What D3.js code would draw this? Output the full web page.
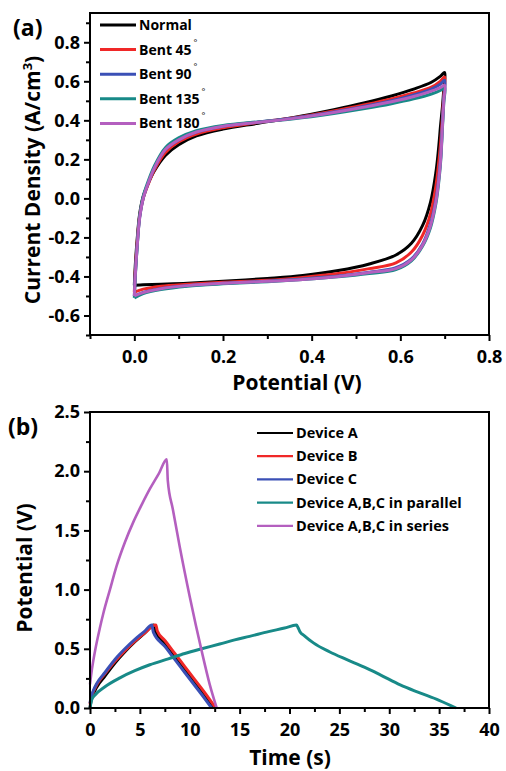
<!DOCTYPE html>
<html>
<head>
<meta charset="utf-8">
<script src="https://d3js.org/d3.v7.min.js"></script>
<style>
  body { margin: 0; background: #fff; }
  text { font-family: "Open Sans", "Noto Sans", sans-serif; font-weight: bold; fill: #000; }
</style>
</head>
<body>
<div id="chart"></div>
<script>
var W = 506, H = 771;

// ---- panel (a): cyclic voltammetry under bending ----
var cvNames  = ['Normal', 'Bent 45', 'Bent 90', 'Bent 135', 'Bent 180'],
    cvColors = ['#000000', '#f02828', '#3b50b6', '#188a88', '#b45fbf'];

// forward scan (0 -> 0.7 V) and reverse scan (0.7 -> 0 V)
var vAnodic   = [0, 0.002, 0.006, 0.012, 0.02, 0.03, 0.045, 0.07, 0.1, 0.14, 0.2, 0.28, 0.36, 0.45, 0.52, 0.58, 0.63, 0.67, 0.69, 0.70],
    vCathodic = [0.698, 0.695, 0.691, 0.686, 0.68, 0.668, 0.65, 0.625, 0.59, 0.53, 0.46, 0.38, 0.3, 0.2, 0.12, 0.06, 0.02, 0.0];

var iNormalUp   = [-0.445, -0.35, -0.22, -0.08, 0.01, 0.07, 0.14, 0.22, 0.275, 0.32, 0.355, 0.385, 0.415, 0.455, 0.49, 0.525, 0.56, 0.595, 0.625, 0.645],
    iBent45Up   = [-0.48, -0.38, -0.24, -0.09, 0.0, 0.065, 0.145, 0.235, 0.29, 0.33, 0.362, 0.39, 0.413, 0.448, 0.48, 0.51, 0.54, 0.57, 0.6, 0.622],
    iBent90Up   = [-0.50, -0.40, -0.26, -0.10, 0.0, 0.07, 0.155, 0.25, 0.30, 0.34, 0.37, 0.392, 0.412, 0.443, 0.472, 0.5, 0.53, 0.56, 0.585, 0.605],
    iBent135Up  = [-0.51, -0.41, -0.26, -0.09, 0.01, 0.08, 0.165, 0.26, 0.31, 0.347, 0.374, 0.392, 0.408, 0.435, 0.46, 0.485, 0.51, 0.535, 0.553, 0.568],
    iBent180Up  = [-0.50, -0.40, -0.26, -0.10, 0.0, 0.07, 0.155, 0.25, 0.30, 0.34, 0.37, 0.39, 0.41, 0.44, 0.468, 0.495, 0.522, 0.55, 0.567, 0.58];

var iNormalDown  = [0.56, 0.47, 0.38, 0.25, 0.13, -0.02, -0.14, -0.23, -0.29, -0.336, -0.37, -0.395, -0.41, -0.425, -0.435, -0.44, -0.443, -0.445],
    iBent45Down  = [0.53, 0.42, 0.29, 0.17, 0.06, -0.08, -0.19, -0.275, -0.33, -0.36, -0.385, -0.405, -0.42, -0.43, -0.44, -0.45, -0.465, -0.48],
    iBent90Down  = [0.51, 0.38, 0.21, 0.09, -0.01, -0.13, -0.235, -0.31, -0.355, -0.378, -0.398, -0.413, -0.424, -0.435, -0.447, -0.462, -0.482, -0.50],
    iBent135Down = [0.49, 0.36, 0.19, 0.07, -0.03, -0.15, -0.245, -0.32, -0.365, -0.385, -0.402, -0.416, -0.427, -0.438, -0.45, -0.467, -0.488, -0.51],
    iBent180Down = [0.50, 0.37, 0.20, 0.08, -0.02, -0.14, -0.24, -0.315, -0.36, -0.38, -0.40, -0.415, -0.425, -0.435, -0.447, -0.463, -0.483, -0.50];

var cvUp   = [iNormalUp, iBent45Up, iBent90Up, iBent135Up, iBent180Up],
    cvDown = [iNormalDown, iBent45Down, iBent90Down, iBent135Down, iBent180Down];

var aXMajor = [0, 0.2, 0.4, 0.6, 0.8], aXLabels = ['0.0', '0.2', '0.4', '0.6', '0.8'],
    aXMinor = [-0.1, 0.1, 0.3, 0.5, 0.7],
    aYMajor = [-0.6, -0.4, -0.2, 0, 0.2, 0.4, 0.6, 0.8],
    aYLabels = ['-0.6', '-0.4', '-0.2', '0.0', '0.2', '0.4', '0.6', '0.8'],
    aYMinor = [-0.7, -0.5, -0.3, -0.1, 0.1, 0.3, 0.5, 0.7, 0.9];

// ---- panel (b): galvanostatic charge / discharge ----
var gcdNames  = ['Device A', 'Device B', 'Device C', 'Device A,B,C in parallel', 'Device A,B,C in series'],
    gcdColors = ['#000000', '#f02828', '#3b50b6', '#188a88', '#b45fbf'];

var tDevA = [0, 0.1, 0.3, 0.7, 1.5, 2.5, 3.5, 4.5, 5.5, 6.4, 6.55, 7.5, 8.5, 9.5, 10.5, 11.5, 12.4],
    vDevA = [0.0, 0.06, 0.11, 0.18, 0.27, 0.38, 0.475, 0.56, 0.635, 0.70, 0.645, 0.54, 0.43, 0.32, 0.21, 0.10, 0.0];
var tDevB = [0, 0.1, 0.3, 0.7, 1.5, 2.5, 3.5, 4.5, 5.5, 6.6, 6.75, 7.5, 8.5, 9.5, 10.5, 11.5, 12.6],
    vDevB = [0.03, 0.08, 0.13, 0.2, 0.29, 0.395, 0.485, 0.565, 0.635, 0.70, 0.65, 0.57, 0.46, 0.35, 0.24, 0.13, 0.0];
var tDevC = [0, 0.1, 0.3, 0.7, 1.5, 2.5, 3.5, 4.5, 5.5, 6.2, 6.35, 7.5, 8.5, 9.5, 10.5, 11.5, 12.2],
    vDevC = [0.04, 0.09, 0.14, 0.21, 0.30, 0.41, 0.50, 0.58, 0.65, 0.70, 0.64, 0.52, 0.41, 0.30, 0.19, 0.08, 0.0];
var tParallel = [0, 0.17, 0.5, 1.5, 3, 4.5, 6, 7.85, 9.5, 11.2, 13, 14.5, 16, 17.9, 19.5, 20.7, 20.85, 21.05, 21.5, 22.4, 24, 25.7, 27.5, 29.1, 31.1, 33, 35, 36.7],
    vParallel = [0, 0.07, 0.11, 0.18, 0.255, 0.315, 0.365, 0.415, 0.46, 0.50, 0.54, 0.575, 0.605, 0.645, 0.675, 0.70, 0.68, 0.645, 0.61, 0.55, 0.475, 0.41, 0.345, 0.28, 0.195, 0.13, 0.065, 0.0];
var tSeries = [0, 0.2, 0.5, 1.0, 1.34, 2.0, 2.67, 3.5, 4.34, 5.2, 6.0, 6.9, 7.7, 7.8, 8.3, 9.0, 10.0, 11.2, 12.0, 12.7],
    vSeries = [0.2, 0.33, 0.48, 0.68, 0.8, 1.0, 1.2, 1.4, 1.57, 1.72, 1.85, 1.98, 2.10, 1.92, 1.68, 1.36, 0.94, 0.48, 0.2, 0.0];

var gcdT = [tDevA, tDevB, tDevC, tParallel, tSeries],
    gcdV = [vDevA, vDevB, vDevC, vParallel, vSeries];

var bXMajor = [0, 5, 10, 15, 20, 25, 30, 35, 40],
    bXMinor = [2.5, 7.5, 12.5, 17.5, 22.5, 27.5, 32.5, 37.5],
    bYMajor = [0, 0.5, 1, 1.5, 2, 2.5],
    bYLabels = ['0.0', '0.5', '1.0', '1.5', '2.0', '2.5'],
    bYMinor = [0.25, 0.75, 1.25, 1.75, 2.25];

var svg = d3.select('#chart').append('svg')
    .attr('width', W)
    .attr('height', H);

function drawFrame(x, y, xMajor, xLabels, xMinor, yMajor, yLabels, yMinor) {
    var g = svg.append('g');
    var xr = x.range(), yr = y.range();

    var xa = g.append('g')
        .attr('transform', 'translate(0,' + yr[0] + ')')
        .call(d3.axisBottom(x).tickValues(xMajor).tickSize(6).tickPadding(9)
            .tickFormat(function(d, i) { return xLabels[i]; }));
    xa.append('g').call(d3.axisBottom(x).tickValues(xMinor).tickSize(4).tickFormat(''));

    var ya = g.append('g')
        .attr('transform', 'translate(' + xr[0] + ',0)')
        .call(d3.axisLeft(y).tickValues(yMajor).tickSize(6).tickPadding(4)
            .tickFormat(function(d, i) { return yLabels[i]; }));
    ya.append('g').call(d3.axisLeft(y).tickValues(yMinor).tickSize(4).tickFormat(''));

    g.selectAll('.domain').remove();
    g.selectAll('.tick line').attr('stroke', '#000').attr('stroke-width', 2);
    g.selectAll('.tick text')
        .style('font-size', '18px')
        .style('font-family', '"Open Sans", sans-serif')
        .style('font-weight', 'bold')
        .attr('fill', '#000');

    g.append('rect')
        .attr('x', xr[0]).attr('y', yr[1])
        .attr('width', xr[1] - xr[0]).attr('height', yr[0] - yr[1])
        .attr('fill', 'none')
        .attr('stroke', '#000')
        .attr('stroke-width', 2);
}

// ---------- (a) ----------
var xa = d3.scaleLinear().domain([-0.1, 0.8]).range([90, 489]),
    ya = d3.scaleLinear().domain([-0.7, 0.95]).range([335, 13]);

var cvLine = d3.line()
    .x(function(d) { return xa(d[0]); })
    .y(function(d) { return ya(d[1]); })
    .curve(d3.curveCatmullRom.alpha(0.5));

cvNames.forEach(function(name, k) {
    var pts = vAnodic.map(function(v, i) { return [v, cvUp[k][i]]; })
        .concat(vCathodic.map(function(v, i) { return [v, cvDown[k][i]]; }));
    svg.append('path')
        .datum(pts)
        .attr('d', cvLine)
        .attr('fill', 'none')
        .attr('stroke', cvColors[k])
        .attr('stroke-width', 3)
        .attr('stroke-linejoin', 'round');
});

drawFrame(xa, ya, aXMajor, aXLabels, aXMinor, aYMajor, aYLabels, aYMinor);

var legA = svg.append('g');
cvNames.forEach(function(name, k) {
    var cy = 25 + k * 24.6;
    legA.append('line')
        .attr('x1', 100).attr('x2', 136)
        .attr('y1', cy).attr('y2', cy)
        .attr('stroke', cvColors[k])
        .attr('stroke-width', 3);
    var t = legA.append('text')
        .attr('x', 139).attr('y', cy + 5)
        .style('font-size', '14px')
        .text(name);
    if (k > 0) {
        t.append('tspan')
            .attr('dx', 2).attr('dy', -9)
            .style('font-size', '9px')
            .style('font-weight', 'normal')
            .text('°');
    }
});

svg.append('text')
    .attr('x', 13).attr('y', 36)
    .style('font-size', '23px')
    .text('(a)');

svg.append('text')
    .attr('x', 297).attr('y', 390)
    .attr('text-anchor', 'middle')
    .style('font-size', '21px')
    .text('Potential (V)');

var yLabA = svg.append('text')
    .attr('transform', 'translate(40,180) rotate(-90)')
    .attr('text-anchor', 'middle')
    .style('font-size', '21px')
    .text('Current Density (A/cm');
yLabA.append('tspan').attr('dy', -8).style('font-size', '13px').text('3');
yLabA.append('tspan').attr('dy', 8).text(')');

// ---------- (b) ----------
var xb = d3.scaleLinear().domain([0, 40]).range([90, 489]),
    yb = d3.scaleLinear().domain([0, 2.5]).range([708, 412]);

var gcdLine = d3.line()
    .x(function(d) { return xb(d[0]); })
    .y(function(d) { return yb(d[1]); })
    .curve(d3.curveMonotoneX);

gcdNames.forEach(function(name, k) {
    var pts = gcdT[k].map(function(t, i) { return [t, gcdV[k][i]]; });
    svg.append('path')
        .datum(pts)
        .attr('d', gcdLine)
        .attr('fill', 'none')
        .attr('stroke', gcdColors[k])
        .attr('stroke-width', k === 4 ? 2.6 : 3)
        .attr('stroke-linejoin', 'round');
});

drawFrame(xb, yb, bXMajor, bXMajor.map(String), bXMinor, bYMajor, bYLabels, bYMinor);

var legB = svg.append('g');
gcdNames.forEach(function(name, k) {
    var cy = 433 + k * 23.2;
    legB.append('line')
        .attr('x1', 257).attr('x2', 293)
        .attr('y1', cy).attr('y2', cy)
        .attr('stroke', gcdColors[k])
        .attr('stroke-width', 2.2);
    legB.append('text')
        .attr('x', 296).attr('y', cy + 5)
        .style('font-size', '14.5px')
        .text(name);
});

svg.append('text')
    .attr('x', 8).attr('y', 435)
    .style('font-size', '23px')
    .text('(b)');

svg.append('text')
    .attr('x', 290).attr('y', 765)
    .attr('text-anchor', 'middle')
    .style('font-size', '21px')
    .text('Time (s)');

svg.append('text')
    .attr('transform', 'translate(32,568) rotate(-90)')
    .attr('text-anchor', 'middle')
    .style('font-size', '21px')
    .text('Potential (V)');
</script>
</body>
</html>
